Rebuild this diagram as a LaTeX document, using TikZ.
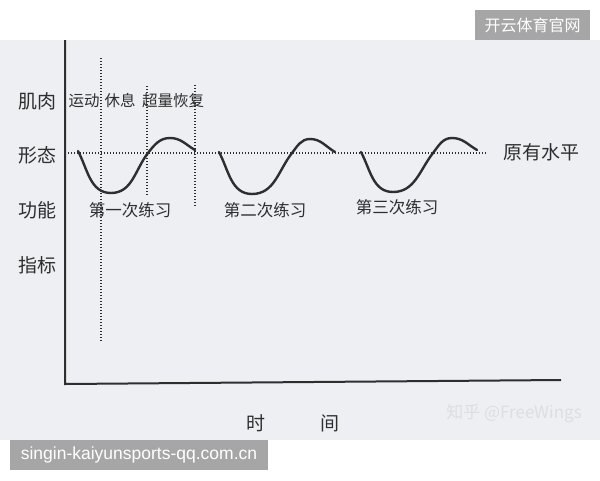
\documentclass[tikz,border=0pt]{standalone}
\usepackage{fontspec}
\newfontfamily\cjk{Noto Sans CJK SC}
\setmainfont{Liberation Sans}
\definecolor{scan}{HTML}{EDEFF3}
\definecolor{ink}{HTML}{2E2E2E}
\definecolor{tagbg}{HTML}{A6A6A6}
\definecolor{wmk}{HTML}{DCDEE2}
\tikzset{
  lbl/.style={text=ink,font=\cjk\fontsize{19}{19}\selectfont,inner sep=0pt},
  small/.style={text=ink,font=\cjk\fontsize{16.5}{16.5}\selectfont,inner sep=0pt},
  toplbl/.style={text=ink,font=\cjk\fontsize{15.5}{15.5}\selectfont,inner sep=0pt},
  dotline/.style={draw=ink,line width=1.8pt,dash pattern=on 1.2pt off 1.8pt},
  axis/.style={draw=ink,line width=2pt},
  curve/.style={draw=ink,line width=2.4pt,line cap=round},
  tag/.style={fill=tagbg,text=white,inner sep=0pt,anchor=center}
}
\begin{document}
\begin{tikzpicture}[x=1pt,y=1pt]
\useasboundingbox (0,0) rectangle (600,-480);
\fill[white] (0,0) rectangle (600,-480);
\fill[scan] (0,-40) rectangle (600,-440);
% axes
\coordinate (o) at (65,-384);
\coordinate (ytop) at (65,-40);
\coordinate (xend) at (561,-380);
\draw[axis] (ytop) -- (o) -- (xend);
% dotted lines
\coordinate (h1) at (68,-153);
\coordinate (h2) at (487,-153);
\draw[dotline] (h1) -- (h2);
\coordinate (v1a) at (101,-58);  \coordinate (v1b) at (101,-342);
\coordinate (v2a) at (147,-86);  \coordinate (v2b) at (147,-195);
\coordinate (v3a) at (195,-85);  \coordinate (v3b) at (195,-207);
\draw[dotline] (v1a) -- (v1b);
\draw[dotline] (v2a) -- (v2b);
\draw[dotline] (v3a) -- (v3b);
% curves
\draw[curve] (78,-151) to[out=-62,in=180] (111,-193) to[out=0,in=-128] (148,-153)
  to[out=52,in=180] (170,-138) to[out=0,in=150] (195,-150);
\draw[curve] (219,-152) to[out=-62,in=180] (252,-194) to[out=0,in=-128] (292,-153)
  to[out=52,in=180] (310,-139) to[out=0,in=150] (335,-152);
\draw[curve] (361,-152) to[out=-62,in=180] (393,-192) to[out=0,in=-128] (433,-153)
  to[out=52,in=180] (452,-138) to[out=0,in=150] (477,-150);
% y labels
\node[lbl] (l1) at (37,-101) {肌肉};
\node[lbl] (l2) at (37,-155) {形态};
\node[lbl] (l3) at (37,-210) {功能};
\node[lbl] (l4) at (37,-265) {指标};
% top labels
\node[toplbl] (t1) at (84,-101) {运动};
\node[toplbl] (t2) at (120,-101) {休息};
\node[toplbl] (t3) at (173,-101) {超量恢复};
% session labels
\node[small] (s1) at (130,-210) {第一次练习};
\node[small] (s2) at (265,-210) {第二次练习};
\node[small] (s3) at (397,-207) {第三次练习};
\node[lbl] (base) at (541,-152) {原有水平};
% time
\node[lbl] (tm1) at (256,-423) {时};
\node[lbl] (tm2) at (330,-423) {间};
% watermark
\node[text=wmk,font=\cjk\fontsize{17}{17}\selectfont,inner sep=0pt] (wm) at (514,-413) {知乎 @FreeWings};
% tags
\fill[tagbg] (475,-10) rectangle (590,-40);
\node[text=white,font=\cjk\fontsize{16}{16}\selectfont,inner sep=0pt] (tagtop) at (532.5,-25) {开云体育官网};
\fill[tagbg] (10,-440) rectangle (268,-470);
\node[text=white,font=\fontsize{17.5}{17.5}\selectfont,inner sep=0pt] (tagbot) at (139,-455) {singin-kaiyunsports-qq.com.cn};
\end{tikzpicture}
\end{document}
